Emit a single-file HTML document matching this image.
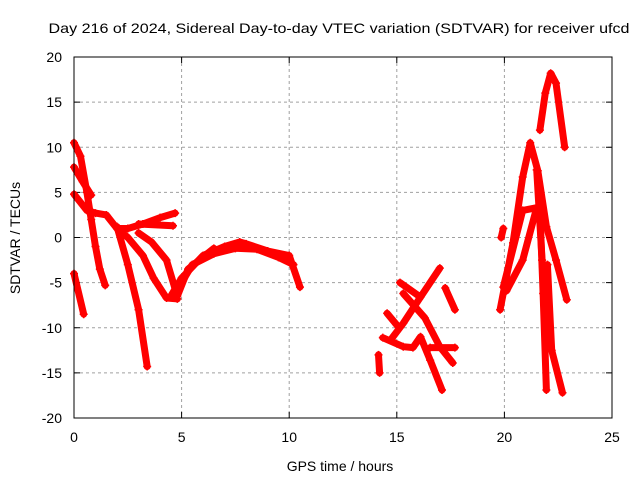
<!DOCTYPE html>
<html><head><meta charset="utf-8"><style>
body{margin:0;background:#fff}
svg{display:block;font-family:"Liberation Sans",sans-serif}
</style></head><body>
<svg id="chart" width="640" height="480" viewBox="0 0 640 480" xmlns="http://www.w3.org/2000/svg">
<rect width="640" height="480" fill="#fff"/>
<text x="339" y="33" font-size="14" text-anchor="middle" textLength="581" lengthAdjust="spacingAndGlyphs">Day 216 of 2024, Sidereal Day-to-day VTEC variation (SDTVAR) for receiver ufcd</text>
<g id="grid"></g>
<g id="ticks"></g>
<g id="series"></g>
<rect x="74" y="57" width="538" height="361" fill="none" stroke="#000" stroke-width="1"/>
<text x="340" y="471" font-size="14" text-anchor="middle">GPS time / hours</text>
<text x="20" y="238" font-size="14" text-anchor="middle" transform="rotate(-90 20 238)">SDTVAR / TECUs</text>
</svg>
<script>
const xTicks=[0,5,10,15,20,25];
const yTicks=[-20,-15,-10,-5,0,5,10,15,20];
const tA_x=[0,0.3,0.6,0.8,1.0,1.2,1.45];
const tA_y=[10.5,9,5,2,-1,-3.5,-5.3];
const tB_x=[0,0.4,0.8];
const tB_y=[7.8,6.2,4.7];
const tC_x=[0,0.6,1.0,1.5,2.0,2.5,3.2,4.0,4.7];
const tC_y=[4.8,3,2.7,2.5,1,1,1.5,2.2,2.7];
const tD_x=[2.0,2.5,3.2,3.7,4.3,4.8];
const tD_y=[1,0,-2,-4.5,-6.7,-6.8];
const tE_x=[4.5,5.0,6.0,7.0,7.7,8.0,9.0,10.0,10.5];
const tE_y=[-6.5,-4.5,-2,-1,-0.5,-0.7,-1.5,-2,-5.5];
const tE2_x=[4.8,5.5,6.5,7.5,8.5,9.5,10.2];
const tE2_y=[-5.8,-3,-1.8,-1.2,-1.3,-2.2,-3];
const tF_x=[2.0,2.5,3.0,3.4];
const tF_y=[1.2,-3,-8,-14.3];
const tG_x=[3.0,3.6,4.3,4.8,5.3,6.5];
const tG_y=[0.5,-0.5,-2.5,-6.5,-3.5,-1.2];
const tH_x=[3.0,4.6];
const tH_y=[1.5,1.3];
const tI_x=[0,0.45];
const tI_y=[-4,-8.5];
const tJ_x=[14.15,14.2];
const tJ_y=[-13,-15];
const tK_x=[17.0,16.1,15.3,14.7];
const tK_y=[-3.4,-6.6,-9.5,-11.4];
const tL_x=[15.15,16.1];
const tL_y=[-5,-6.6];
const tM_x=[15.3,16.3,17.0,17.6];
const tM_y=[-6.2,-8.9,-12.1,-13.9];
const tN_x=[14.55,15.0];
const tN_y=[-8.4,-9.7];
const tO_x=[14.35,15.3,15.75,16.1,16.55,17.1];
const tO_y=[-11.1,-12.1,-12.2,-11.0,-13.6,-16.9];
const tP_x=[16.55,17.7];
const tP_y=[-12.2,-12.2];
const tQ_x=[17.25,17.7];
const tQ_y=[-5.6,-8];
const tR_x=[21.65,21.9,22.15,22.4,22.8];
const tR_y=[11.9,16,18.2,17.1,10];
const tS_x=[19.8,20.4,20.85,21.2,21.55,21.95,22.4,22.9];
const tS_y=[-8,-0.6,6.7,10.5,7.4,1.2,-2.5,-6.9];
const tT_x=[19.95,20.85,21.5,20.85,20.1];
const tT_y=[-5.5,3,3.3,-2.5,-5.9];
const tU_x=[21.5,21.75,21.9];
const tU_y=[7.5,-2.5,-9.9];
const tV_x=[21.65,21.8,21.95];
const tV_y=[3,-6.2,-16.9];
const tW_x=[22.0,22.2,22.7];
const tW_y=[-3,-12.5,-17.2];
const tX_x=[19.85,19.95];
const tX_y=[0,1];
const traces=[[tA_x,tA_y],[tB_x,tB_y],[tC_x,tC_y],[tD_x,tD_y],[tE_x,tE_y],[tE2_x,tE2_y],[tF_x,tF_y],[tG_x,tG_y],[tH_x,tH_y],[tI_x,tI_y],[tJ_x,tJ_y],[tK_x,tK_y],[tL_x,tL_y],[tM_x,tM_y],[tN_x,tN_y],[tO_x,tO_y],[tP_x,tP_y],[tQ_x,tQ_y],[tR_x,tR_y],[tS_x,tS_y],[tT_x,tT_y],[tU_x,tU_y],[tV_x,tV_y],[tW_x,tW_y],[tX_x,tX_y]];
const NS='http://www.w3.org/2000/svg';
const X0=74,X1=612,Y0=418,Y1=57;
function sx(v){return X0+(v-0)/(25-0)*(X1-X0);}
function sy(v){return Y0-(v+20)/40*(Y0-Y1);}
function mk(t,a,p){const e=document.createElementNS(NS,t);for(const k in a)e.setAttribute(k,a[k]);p.appendChild(e);return e;}
const grid=document.getElementById('grid'),ticks=document.getElementById('ticks'),ser=document.getElementById('series');
xTicks.forEach(t=>{const x=sx(t);
 if(t>0&&t<25){const l=mk('line',{x1:x,x2:x,y1:Y1,y2:Y0,stroke:'#a0a0a0','stroke-dasharray':'3,3'},grid);
 
 }
 mk('line',{x1:x,x2:x,y1:Y0,y2:Y0-6,stroke:'#000'},ticks);
 mk('line',{x1:x,x2:x,y1:Y1,y2:Y1+6,stroke:'#000'},ticks);
 const tx=mk('text',{x:x,y:Y0+24,'font-size':14,'text-anchor':'middle'},ticks);tx.textContent=t;
 
 });
yTicks.forEach(t=>{const y=sy(t);
 if(t>-20&&t<20){const l=mk('line',{x1:X0,x2:X1,y1:y,y2:y,stroke:'#a0a0a0','stroke-dasharray':'3,3'},grid);
 
 }
 mk('line',{x1:X0,x2:X0+6,y1:y,y2:y,stroke:'#000'},ticks);
 mk('line',{x1:X1,x2:X1-6,y1:y,y2:y,stroke:'#000'},ticks);
 const tx=mk('text',{x:X0-12,y:y+5,'font-size':14,'text-anchor':'end'},ticks);tx.textContent=t;
 
 });
traces.forEach(([xs,ys])=>{
 const pts=xs.map((v,i)=>sx(v).toFixed(1)+','+sy(ys[i]).toFixed(1)).join(' ');
 const pl=mk('polyline',{points:pts,fill:'none',stroke:'#ff0000','stroke-width':7,'stroke-linejoin':'round','stroke-linecap':'round'},ser);
 
 
 xs.forEach((v,i)=>{const x=sx(v),y=sy(ys[i]);
  const p=mk('path',{d:`M${x-4},${y}H${x+4}M${x},${y-4}V${y+4}`,stroke:'#ff0000','stroke-width':1.5},ser);
  
  });
});
</script>
</body></html>
